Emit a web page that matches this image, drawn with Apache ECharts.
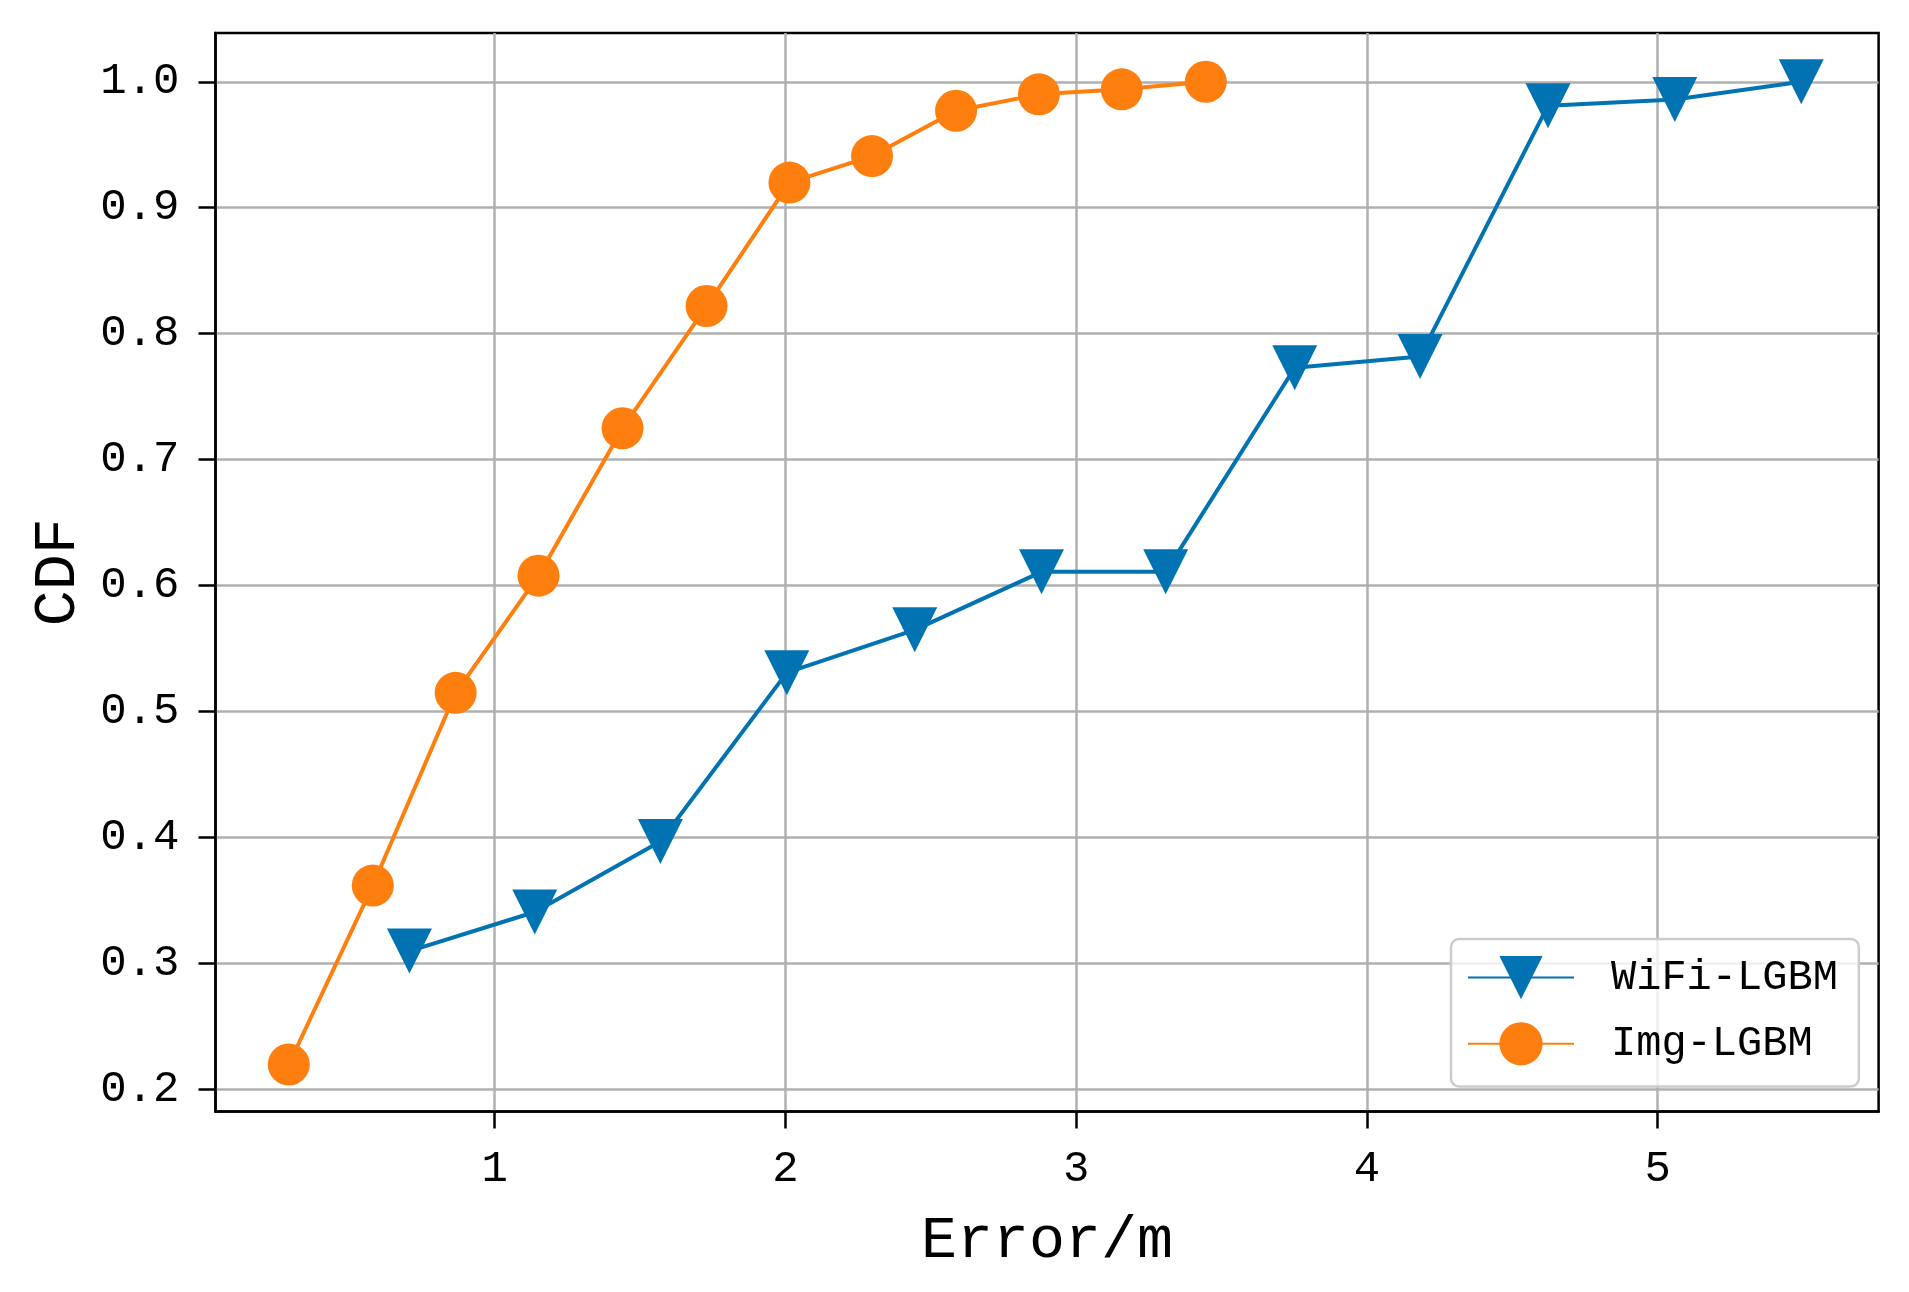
<!DOCTYPE html>
<html>
<head>
<meta charset="utf-8">
<script src="https://cdn.jsdelivr.net/npm/echarts@6/dist/echarts.min.js"></script>
<style>
html,body{margin:0;padding:0;background:#fff;}
#chart{width:1909px;height:1292px;}
</style>
</head>
<body>
<div id="chart"></div>
<script>
// ---- data ----
const wifiX = [0.707, 1.138, 1.570, 2.005, 2.445, 2.881, 3.308, 3.752, 4.183, 4.623, 5.059, 5.494];
const wifiY = [0.310, 0.341, 0.397, 0.531, 0.565, 0.611, 0.611, 0.773, 0.782, 0.981, 0.986, 1.000];
const imgX = [0.292, 0.581, 0.866, 1.151, 1.440, 1.729, 2.014, 2.298, 2.587, 2.872, 3.157, 3.446];
const imgY = [0.220, 0.362, 0.515, 0.608, 0.725, 0.822, 0.920, 0.941, 0.977, 0.990, 0.994, 1.000];
const xTicks = [1, 2, 3, 4, 5];
const yTicks = [0.2, 0.3, 0.4, 0.5, 0.6, 0.7, 0.8, 0.9, 1.0];
const seriesNames = ['WiFi-LGBM', 'Img-LGBM'];
const xTitle = 'Error/m';
const yTitle = 'CDF';

const pairs = (xs, ys) => xs.map((x, i) => [x, ys[i]]);
const FONT = '"Liberation Mono", "DejaVu Sans Mono", monospace';

const chart = echarts.init(document.getElementById('chart'), null, {renderer: 'canvas'});
chart.setOption({
  animation: false,
  backgroundColor: '#ffffff',
  grid: {
    left: 215.5, top: 33, right: 30.4, bottom: 180.4,
    show: true, borderColor: '#000', borderWidth: 2.5, backgroundColor: 'transparent'
  },
  xAxis: {
    type: 'value',
    min: 0.04, max: 5.76,
    name: xTitle,
    nameLocation: 'middle',
    nameGap: 100,
    nameTextStyle: {fontFamily: FONT, fontSize: 60, color: '#000'},
    axisLine: {show: true, lineStyle: {color: '#000', width: 2.5}},
    axisTick: {show: true, length: 17, lineStyle: {color: '#000', width: 2.5}, customValues: xTicks},
    axisLabel: {
      customValues: xTicks, margin: 36,
      fontFamily: FONT, fontSize: 44, color: '#000',
      formatter: v => String(Math.round(v))
    },
    splitLine: {show: true, lineStyle: {color: '#b0b0b0', width: 2.5}}
  },
  yAxis: {
    type: 'value',
    min: 0.1826, max: 1.0387,
    name: yTitle,
    nameLocation: 'middle',
    nameGap: 127,
    nameRotate: 90,
    nameTextStyle: {fontFamily: FONT, fontSize: 60, color: '#000'},
    axisLine: {show: true, lineStyle: {color: '#000', width: 2.5}},
    axisTick: {show: true, length: 17, lineStyle: {color: '#000', width: 2.5}, customValues: yTicks},
    axisLabel: {
      customValues: yTicks, margin: 36,
      fontFamily: FONT, fontSize: 44, color: '#000',
      formatter: v => v.toFixed(1)
    },
    splitLine: {show: true, lineStyle: {color: '#b0b0b0', width: 2.5}}
  },
  legend: {
    data: seriesNames,
    orient: 'vertical',
    left: 1451, top: 939,
    padding: [17, 21, 21, 16],
    itemWidth: 106, itemHeight: 54, itemGap: 23,
    backgroundColor: 'rgba(255,255,255,0.8)',
    borderColor: '#cccccc', borderWidth: 2.5, borderRadius: 8,
    textStyle: {fontFamily: FONT, fontSize: 42, color: '#000', padding: [0, 0, 0, 32]}
  },
  series: [
    {
      name: seriesNames[0], type: 'line',
      data: pairs(wifiX, wifiY),
      symbol: 'triangle', symbolRotate: 180, symbolSize: 45,
      lineStyle: {color: '#0173b2', width: 4},
      itemStyle: {color: '#0173b2'},
      clip: false, z: 2
    },
    {
      name: seriesNames[1], type: 'line',
      data: pairs(imgX, imgY),
      symbol: 'circle', symbolSize: 42,
      lineStyle: {color: '#ff7f0e', width: 4},
      itemStyle: {color: '#ff7f0e'},
      clip: false, z: 3
    }
  ]
});
</script>
</body>
</html>
